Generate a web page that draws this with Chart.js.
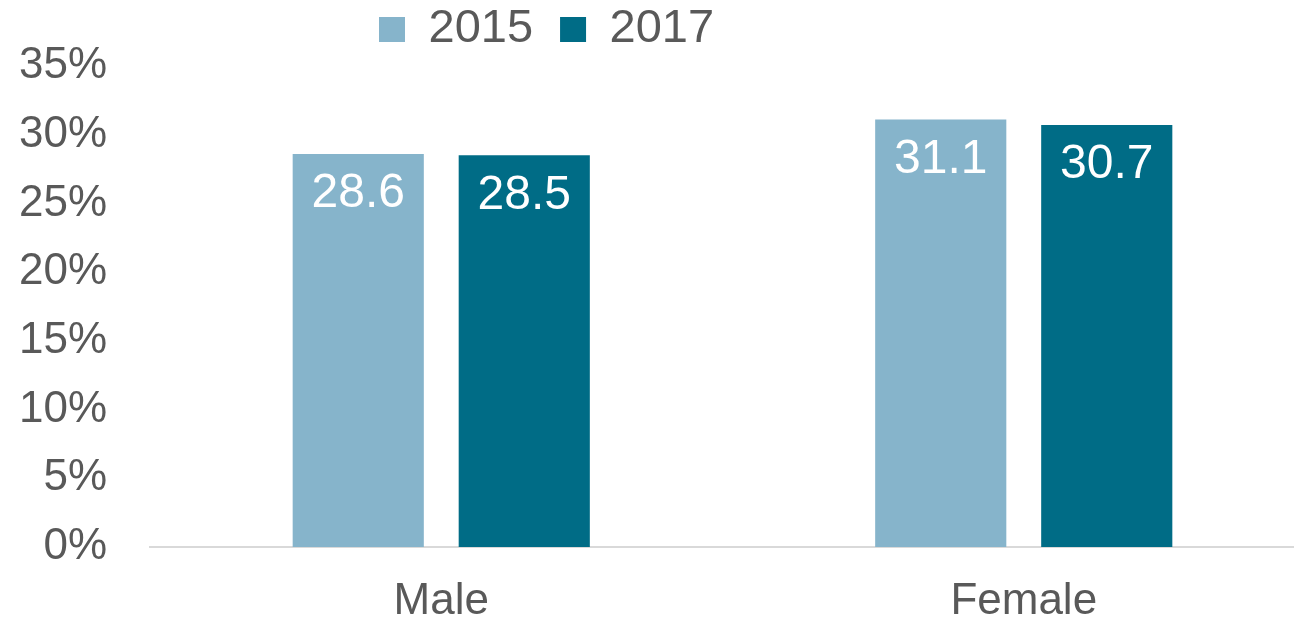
<!DOCTYPE html>
<html>
<head>
<meta charset="utf-8">
<script src="https://cdn.jsdelivr.net/npm/chart.js@4/dist/chart.umd.min.js"></script>
<style>
  body { margin: 0; background: #fff; }
  #wrap { width: 1294px; height: 624px; overflow: hidden; position: relative; }
  #box { width: 1320px; height: 624px; }
</style>
</head>
<body>
<div id="wrap"><div id="box"><canvas id="chart"></canvas></div></div>
<script>
const categories = ["Male", "Female"];
const years = ["2015", "2017"];
const values2015 = [28.6, 31.1];
const values2017 = [28.5, 30.7];

const COLOR = {
  light: "#86b4cb",
  dark: "#006c86",
  text: "#595959",
  axis: "#d9d9d9",
};
const FONT = '"Liberation Sans", Arial, sans-serif';

// white value labels inside the top of each bar
const barLabels = {
  id: "barLabels",
  afterDatasetsDraw(chart) {
    const ctx = chart.ctx;
    ctx.save();
    ctx.fillStyle = "#fff";
    ctx.font = "48px " + FONT;
    ctx.textAlign = "center";
    ctx.textBaseline = "middle";
    chart.data.datasets.forEach((ds, i) => {
      chart.getDatasetMeta(i).data.forEach((bar, j) => {
        ctx.fillText(ds.data[j].toFixed(1), bar.x, bar.y + 40);
      });
    });
    ctx.restore();
  },
};

// legend sits left of centre and higher up in the original
const legendShift = {
  id: "legendShift",
  afterLayout(chart) {
    const l = chart.legend;
    l.left += 352;
    l.right += 352;
    l.top -= 21;
    l.bottom -= 21;
  },
};

new Chart(document.getElementById("chart"), {
  type: "bar",
  data: {
    labels: categories,
    datasets: [
      { label: years[0], data: values2015, backgroundColor: COLOR.light, borderWidth: 0 },
      { label: years[1], data: values2017, backgroundColor: COLOR.dark, borderWidth: 0 },
    ],
  },
  options: {
    responsive: true,
    maintainAspectRatio: false,
    animation: false,
    categoryPercentage: 0.57,
    barPercentage: 0.79,
    layout: { padding: { top: 0, right: 5, bottom: 0, left: 0 } },
    scales: {
      x: {
        grid: { display: false, drawTicks: false },
        border: { display: true, color: COLOR.axis, width: 2 },
        ticks: { color: COLOR.text, font: { size: 44, family: FONT }, padding: 28 },
        afterFit: (scale) => { scale.height = 77; },
      },
      y: {
        min: 0,
        max: 35,
        grid: { display: false, drawTicks: false },
        border: { display: false },
        ticks: {
          stepSize: 5,
          color: COLOR.text,
          font: { size: 44, family: FONT, lineHeight: 1 },
          padding: 43,
          callback: (v) => v + "%",
        },
        afterFit: (scale) => { scale.width = 150; },
      },
    },
    plugins: {
      tooltip: { enabled: false },
      legend: {
        position: "top",
        align: "start",
        maxHeight: 66,
        labels: {
          boxWidth: 26,
          boxHeight: 25,
          padding: 27,
          color: COLOR.text,
          font: { size: 47, family: FONT },
        },
      },
    },
  },
  plugins: [barLabels, legendShift],
});
</script>
</body>
</html>
